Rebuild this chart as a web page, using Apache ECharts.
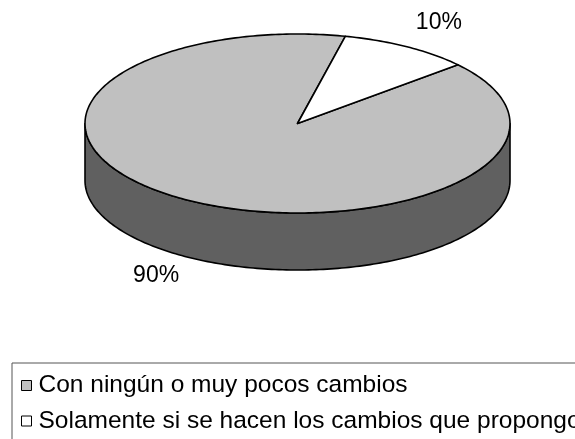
<!DOCTYPE html>
<html>
<head>
<meta charset="utf-8">
<script src="https://cdn.jsdelivr.net/npm/echarts@6/dist/echarts.min.js"></script>
<style>
  html, body { margin: 0; padding: 0; background: #fff; }
  #chart { width: 575px; height: 439px; }
</style>
</head>
<body>
<div id="chart"></div>
<script>
// Answers and their shares
const categories = ['Con ningún o muy pocos cambios', 'Solamente si se hacen los cambios que propongo'];
const values = [90, 10];
const valueLabels = ['90%', '10%'];

// Fill colours of the top faces and of the visible side walls
const topColors = ['#c0c0c0', '#ffffff'];
const sideColors = ['#606060', '#a0a0a0'];

// Layout of the tilted pie
const CX = 297.5, CY = 123.5, RX = 212.5, RY = 89.5, DEPTH = 57;
const FIRST_ANGLE = 49; // degrees, clockwise from 12 o'clock
const FONT = '"Liberation Sans", Arial, sans-serif';

const total = values.reduce((a, b) => a + b, 0);

function pt(deg, drop) {
  const r = deg * Math.PI / 180;
  return [CX + RX * Math.sin(r), CY - RY * Math.cos(r) + (drop || 0)];
}

function arc(a0, a1, drop) {
  const pts = [];
  const n = Math.max(2, Math.ceil(Math.abs(a1 - a0)));
  for (let k = 0; k <= n; k++) pts.push(pt(a0 + (a1 - a0) * k / n, drop));
  return pts;
}

function renderSlice(params, api) {
  const i = params.seriesIndex;
  const v = api.value(0);
  let before = 0;
  for (let j = 0; j < i; j++) before += values[j];
  const a0 = FIRST_ANGLE + 360 * before / total;
  const a1 = a0 + 360 * v / total;
  const stroke = { stroke: '#000', lineWidth: 1.6, lineJoin: 'round' };
  const children = [];

  // Side wall: only the part of the rim that faces the viewer (90°..270°, repeated each turn)
  [[90, 270], [450, 630]].forEach(([f0, f1]) => {
    const s = Math.max(a0, f0), e = Math.min(a1, f1);
    if (e > s) {
      const pts = arc(s, e, 0).concat(arc(e, s, DEPTH));
      children.push({
        type: 'polygon',
        shape: { points: pts },
        style: Object.assign({ fill: sideColors[i] }, stroke)
      });
    }
  });

  // Top face
  children.push({
    type: 'polygon',
    shape: { points: [[CX, CY]].concat(arc(a0, a1, 0)) },
    style: Object.assign({ fill: api.visual('color') }, stroke)
  });

  // Percentage label outside the slice
  const m = (a0 + a1) / 2 * Math.PI / 180;
  const front = Math.cos(m) < 0;
  children.push({
    type: 'text',
    x: CX + (RX + 62) * Math.sin(m),
    y: CY - (RY + 28) * Math.cos(m) + (front ? DEPTH - 6 : 0),
    style: {
      text: valueLabels[i],
      fill: '#000',
      font: '23px ' + FONT,
      align: 'center',
      verticalAlign: 'middle'
    }
  });

  return { type: 'group', children };
}

const chart = echarts.init(document.getElementById('chart'), null, { renderer: 'canvas' });
chart.setOption({
  animation: false,
  backgroundColor: '#ffffff',
  legend: {
    orient: 'vertical',
    left: 12,
    top: 363,
    width: 800,
    height: 200,
    padding: [10, 10, 12, 9],
    itemGap: 10.5,
    itemWidth: 10,
    itemHeight: 10,
    icon: 'rect',
    borderColor: '#555',
    borderWidth: 1,
    itemStyle: { borderColor: '#000', borderWidth: 1 },
    textStyle: { fontFamily: FONT, fontSize: 24.5, color: '#000', padding: [0, 0, 0, 2] },
    data: categories
  },
  series: categories.map((name, i) => ({
    type: 'custom',
    name: name,
    coordinateSystem: 'none',
    silent: true,
    itemStyle: { color: topColors[i] },
    renderItem: renderSlice,
    data: [values[i]]
  }))
});
</script>
</body>
</html>
